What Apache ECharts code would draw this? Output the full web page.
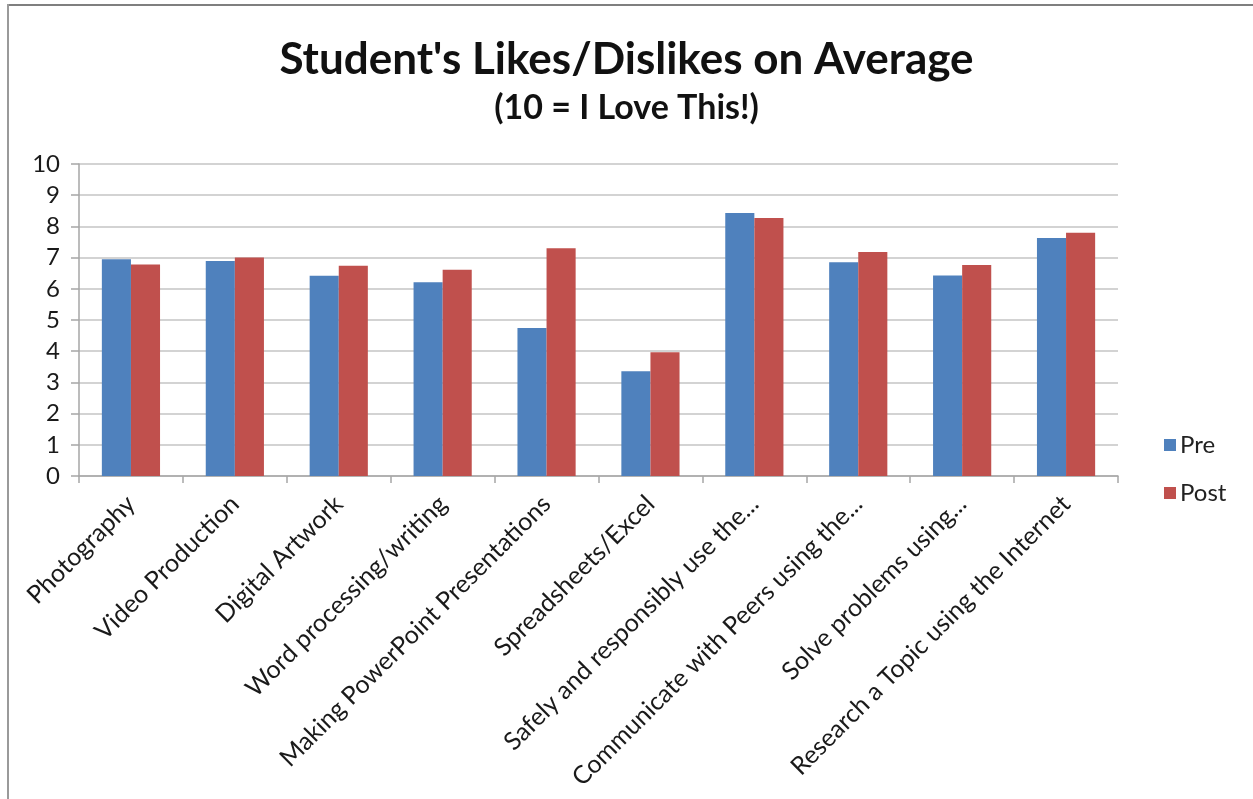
<!DOCTYPE html>
<html>
<head>
<meta charset="utf-8">
<title>Student's Likes/Dislikes on Average</title>
<script src="https://cdn.jsdelivr.net/npm/echarts@6/dist/echarts.min.js"></script>
<style>
  html, body { margin: 0; padding: 0; background: #ffffff; }
  #chart { width: 1253px; height: 799px; }
</style>
</head>
<body>
<div id="chart"></div>
<script>
// Activity categories shown along the x axis
const categories = [
  'Photography',
  'Video Production',
  'Digital Artwork',
  'Word processing/writing',
  'Making PowerPoint Presentations',
  'Spreadsheets/Excel',
  'Safely and responsibly use the...',
  'Communicate with Peers using the...',
  'Solve problems using...',
  'Research a Topic using the Internet'
];

// Average ratings before and after the program (10 = I Love This!)
const preScores  = [6.95, 6.89, 6.42, 6.21, 4.74, 3.36, 8.43, 6.85, 6.43, 7.63];
const postScores = [6.78, 7.00, 6.74, 6.61, 7.30, 3.97, 8.27, 7.18, 6.76, 7.80];

// Value axis ticks
const yTicks = [0, 1, 2, 3, 4, 5, 6, 7, 8, 9, 10];

const FONT = 'Lato, "Open Sans", "Noto Sans", sans-serif';

const chart = echarts.init(document.getElementById('chart'), null, { renderer: 'canvas' });

chart.setOption({
  backgroundColor: '#ffffff',
  animation: false,
  title: [
    {
      text: "Student's Likes/Dislikes on Average",
      left: 'center',
      top: 33,
      textStyle: { fontFamily: FONT, fontSize: 44, fontWeight: 'bold', color: '#111111' }
    },
    {
      text: '(10 = I Love This!)',
      left: 'center',
      top: 86,
      textStyle: { fontFamily: FONT, fontSize: 34, fontWeight: 'bold', color: '#111111' }
    }
  ],
  legend: {
    orient: 'vertical',
    left: 1159,
    top: 428,
    itemWidth: 12,
    itemHeight: 12,
    itemGap: 24,
    icon: 'rect',
    textStyle: { fontFamily: FONT, fontSize: 24, color: '#222222', padding: [0, 0, 0, -1] },
    data: ['Pre', 'Post']
  },
  grid: {
    left: 79,
    right: 135,
    top: 164,
    bottom: 323,
    containLabel: false
  },
  xAxis: {
    type: 'category',
    data: categories,
    boundaryGap: true,
    axisLine: { show: true, lineStyle: { color: '#a6a6a6', width: 1.5 } },
    axisTick: { show: true, length: 7, lineStyle: { color: '#a6a6a6', width: 1.5 } },
    axisLabel: {
      interval: 0,
      rotate: 45,
      margin: 24,
      fontFamily: FONT,
      fontSize: 25,
      color: '#1a1a1a'
    }
  },
  yAxis: {
    type: 'value',
    min: yTicks[0],
    max: yTicks[yTicks.length - 1],
    interval: 1,
    axisLine: { show: true, lineStyle: { color: '#a6a6a6', width: 1.5 } },
    axisTick: { show: true, length: 8, lineStyle: { color: '#a6a6a6', width: 1.5 } },
    splitLine: { show: true, lineStyle: { color: '#c4c4c4', width: 1.5 } },
    axisLabel: {
      margin: 19,
      fontFamily: FONT,
      fontSize: 24,
      color: '#1a1a1a'
    }
  },
  series: [
    {
      name: 'Pre',
      type: 'bar',
      data: preScores,
      barGap: '0%',
      barCategoryGap: '44%',
      itemStyle: { color: '#4F81BD' }
    },
    {
      name: 'Post',
      type: 'bar',
      data: postScores,
      barGap: '0%',
      barCategoryGap: '44%',
      itemStyle: { color: '#C0504D' }
    }
  ],
  graphic: [
    // chart frame: top and left edges
    {
      type: 'line',
      shape: { x1: 7, y1: 5, x2: 1253, y2: 5 },
      style: { stroke: '#7f7f7f', lineWidth: 2 },
      silent: true
    },
    {
      type: 'line',
      shape: { x1: 8, y1: 4, x2: 8, y2: 799 },
      style: { stroke: '#9a9a9a', lineWidth: 2 },
      silent: true
    }
  ]
});
</script>
</body>
</html>
